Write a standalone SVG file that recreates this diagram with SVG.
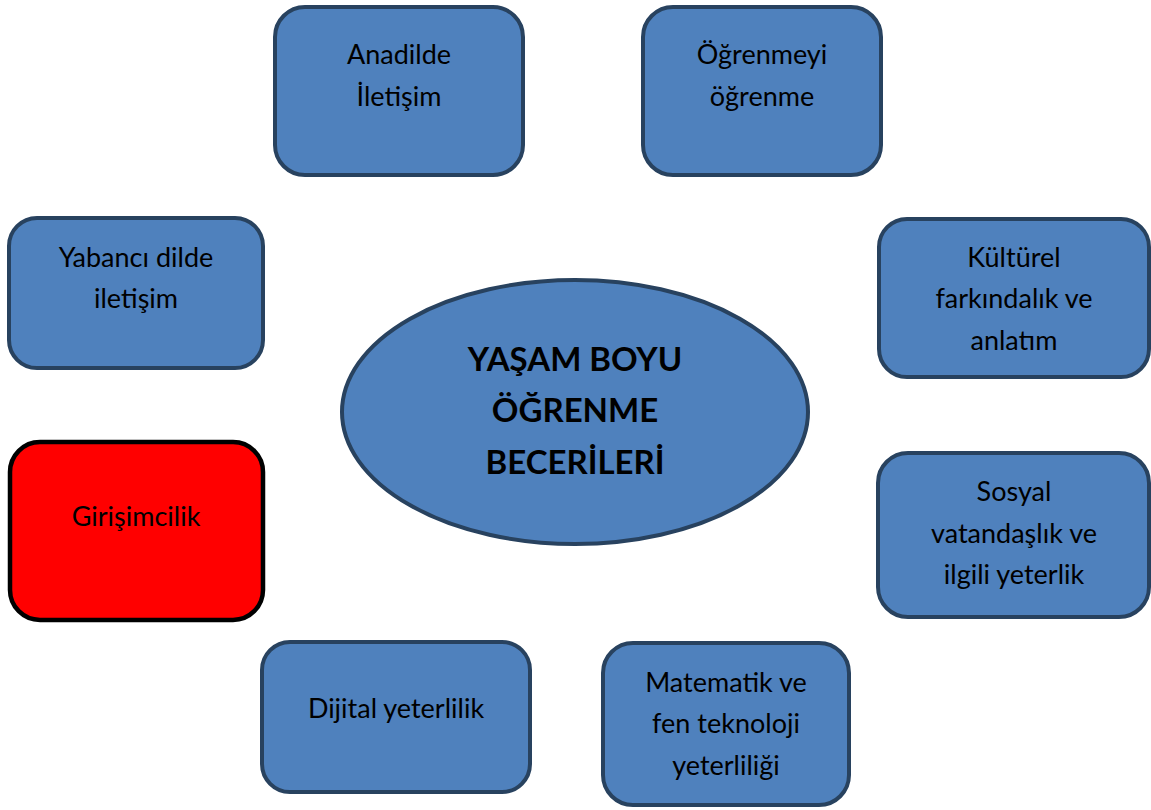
<svg xmlns="http://www.w3.org/2000/svg" width="1151" height="810" viewBox="0 0 1151 810">
<style>
.box{fill:#4F81BD;stroke:#28425F;stroke-width:4}
.red{fill:#FF0000;stroke:#000000;stroke-width:4.5}
.t{font-family:Lato,"Liberation Sans",sans-serif;font-size:27px;fill:#000;text-anchor:middle}
.c{font-family:Lato,"Liberation Sans",sans-serif;font-size:33px;font-weight:bold;fill:#000;text-anchor:middle}
</style>
<rect width="1151" height="810" fill="#fff"/>
<g id="connectors"></g>
<g id="center">
<ellipse cx="575" cy="412" rx="233" ry="132" class="box"/>
<text class="c" x="575" y="371">YAŞAM BOYU</text>
<text class="c" x="575" y="422">ÖĞRENME</text>
<text class="c" x="575" y="474">BECERİLERİ</text>
</g>
<g id="anadilde">
<rect x="275" y="7" width="248" height="168" rx="30" class="box"/>
<text class="t" x="399" y="64">Anadilde</text>
<text class="t" x="399" y="106">İletişim</text>
</g>
<g id="ogrenmeyi">
<rect x="643" y="7" width="238" height="168" rx="30" class="box"/>
<text class="t" x="762" y="64">Öğrenmeyi</text>
<text class="t" x="762" y="106">öğrenme</text>
</g>
<g id="yabanci">
<rect x="9" y="218" width="254" height="150" rx="28" class="box"/>
<text class="t" x="136" y="267">Yabancı dilde</text>
<text class="t" x="136" y="308">iletişim</text>
</g>
<g id="kulturel">
<rect x="879" y="219" width="270" height="158" rx="28" class="box"/>
<text class="t" x="1014" y="267">Kültürel</text>
<text class="t" x="1014" y="308">farkındalık ve</text>
<text class="t" x="1014" y="350">anlatım</text>
</g>
<g id="girisimcilik">
<rect x="10" y="442" width="253" height="178" rx="30" class="red"/>
<text class="t" x="136" y="526">Girişimcilik</text>
</g>
<g id="sosyal">
<rect x="878" y="453" width="271" height="164" rx="30" class="box"/>
<text class="t" x="1014" y="501">Sosyal</text>
<text class="t" x="1014" y="543">vatandaşlık ve</text>
<text class="t" x="1014" y="584">ilgili yeterlik</text>
</g>
<g id="dijital">
<rect x="262" y="642" width="268" height="150" rx="28" class="box"/>
<text class="t" x="396" y="718">Dijital yeterlilik</text>
</g>
<g id="matematik">
<rect x="603" y="643" width="246" height="162" rx="30" class="box"/>
<text class="t" x="726" y="692">Matematik ve</text>
<text class="t" x="726" y="733">fen teknoloji</text>
<text class="t" x="726" y="775">yeterliliği</text>
</g>
</svg>
